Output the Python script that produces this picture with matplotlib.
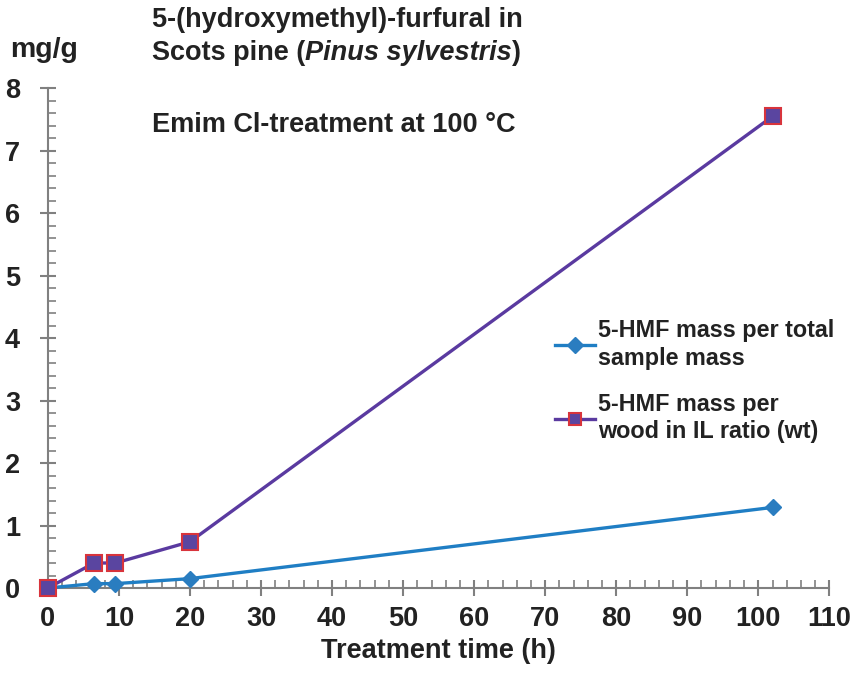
import matplotlib
matplotlib.use("Agg")
import matplotlib.pyplot as plt
from matplotlib.ticker import MultipleLocator

plt.rcParams['font.family'] = ['Liberation Sans', 'DejaVu Sans']

time_h = [0, 6.5, 9.5, 20, 102]
hmf_total = [0, 0.07, 0.07, 0.15, 1.29]
hmf_wood_il = [0, 0.40, 0.40, 0.74, 7.55]

x_ticks = list(range(0, 111, 10))
y_ticks = list(range(0, 9))

label_total = "5-HMF mass per total\nsample mass"
label_wood = "5-HMF mass per\nwood in IL ratio (wt)"

fig = plt.figure(figsize=(8.55, 6.74), dpi=100)
ax = fig.add_axes([0.056, 0.1276, 0.914, 0.7415])

blue = '#1f7ec4'
purple = '#5a3aa0'
txt = '#222222'

ax.plot(time_h, hmf_total, color=blue, lw=2.4, marker='D', ms=8,
        mfc='#2a7dc0', mec='#2a7dc0', label=label_total, clip_on=False, zorder=3)
ax.plot(time_h, hmf_wood_il, color=purple, lw=2.4, marker='s', ms=11,
        mfc='#5a45a0', mec='#d8343c', mew=1.5, label=label_wood, clip_on=False, zorder=4)

ax.set_xlim(0, 110)
ax.set_ylim(0, 8)
ax.set_xticks(x_ticks)
ax.set_yticks(y_ticks)
ax.xaxis.set_minor_locator(MultipleLocator(2))
ax.yaxis.set_minor_locator(MultipleLocator(0.2))

for s in ['top', 'right']:
    ax.spines[s].set_visible(False)
for s in ['left', 'bottom']:
    ax.spines[s].set_color('#808080')
    ax.spines[s].set_linewidth(1.5)

ax.tick_params(axis='both', which='major', direction='inout', length=12, width=1.5,
               color='#808080', labelsize=19.5, labelcolor=txt)
ax.tick_params(axis='both', which='minor', direction='in', length=6, width=1.2,
               color='#808080')
for lab in ax.get_xticklabels() + ax.get_yticklabels():
    lab.set_fontweight('bold')
ax.tick_params(axis='y', pad=14)
ax.tick_params(axis='x', pad=7)

ax.set_xlabel('Treatment time (h)', fontsize=19.5, fontweight='bold', color=txt, labelpad=4)

fig.text(10/855, 1-50/674, 'mg/g', fontsize=20.5, fontweight='bold', color=txt, va='center')
fig.text(152/855, 1-20/674, '5-(hydroxymethyl)-furfural in', fontsize=19.5,
         fontweight='bold', color=txt, va='center')
t1 = fig.text(152/855, 1-53/674, 'Scots pine (', fontsize=19.5,
              fontweight='bold', color=txt, va='center')
t2 = fig.text(0, 0, 'Pinus sylvestris', fontsize=19.5, fontweight='bold', fontstyle='italic',
              color=txt, va='center', ha='left')
fig.canvas.draw()
r = fig.canvas.get_renderer()
bb = t1.get_window_extent(r)
t2.set_position((bb.x1 / fig.bbox.width, 1-53/674))
bb2 = t2.get_window_extent(r)
fig.text(bb2.x1 / fig.bbox.width, 1-53/674, ')', fontsize=19.5,
         fontweight='bold', color=txt, va='center')
fig.text(152/855, 1-125/674, 'Emim Cl-treatment at 100 °C', fontsize=19.5,
         fontweight='bold', color=txt, va='center')

leg = ax.legend(loc='upper left', bbox_to_anchor=(555/855, 1-319/674),
                bbox_transform=fig.transFigure, frameon=False,
                prop={'size': 16.8, 'weight': 'bold'}, handlelength=1.7,
                handletextpad=0.15, labelspacing=1.0, borderaxespad=0, borderpad=0)
for t in leg.get_texts():
    t.set_color(txt)
    t.set_linespacing(1.25)
for h in leg.legend_handles:
    h.set_markersize(8)

fig.savefig('out.png', dpi=100)
